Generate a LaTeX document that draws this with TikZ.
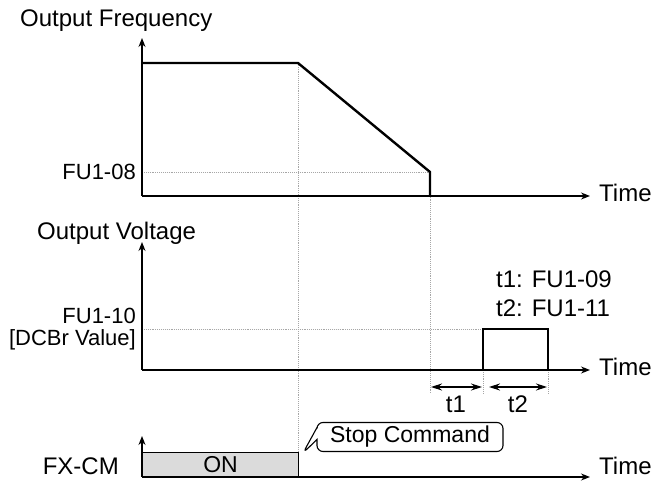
\documentclass[tikz,border=0pt]{standalone}
\usepackage{fontspec}
\setmainfont{Liberation Sans}
\usetikzlibrary{arrows.meta,shapes.callouts}
\begin{document}
\begin{tikzpicture}[x=1pt,y=-1pt,
  axis/.style={line width=1.3pt,-{Stealth[length=9pt,width=7pt]}},
  curve/.style={line width=2.4pt,line join=miter},
  guide/.style={gray!70,densely dotted,line width=0.9pt},
  dim/.style={line width=1.2pt,{Stealth[length=11pt,width=7pt]}-{Stealth[length=11pt,width=7pt]}},
  lbl/.style={font=\fontsize{24}{28}\selectfont,inner sep=0pt},
  slbl/.style={font=\fontsize{22}{26}\selectfont,inner sep=0pt}]
\useasboundingbox (0,0) rectangle (657,481);
% ---- coordinates
\coordinate (o1) at (142,196);
\coordinate (y1) at (142,38);
\coordinate (x1) at (590,196);
\coordinate (f0) at (142,63);
\coordinate (f1) at (298,63);
\coordinate (f2) at (430,172);
\coordinate (f3) at (430,196);
\coordinate (g1) at (142,172);
\coordinate (o2) at (142,370);
\coordinate (y2) at (142,242);
\coordinate (x2) at (590,370);
\coordinate (p0) at (483,370);
\coordinate (p1) at (483,329);
\coordinate (p2) at (548,329);
\coordinate (p3) at (548,370);
\coordinate (g2) at (142,329);
\coordinate (o3) at (142,477);
\coordinate (y3) at (142,436);
\coordinate (x3) at (590,477);
\coordinate (vb) at (298,476);
\coordinate (v2) at (430,394);
\coordinate (v3) at (483,394);
\coordinate (v4) at (548,394);
\coordinate (a1) at (431,387);
\coordinate (a2) at (482,387);
\coordinate (a3) at (489,387);
\coordinate (a4) at (547,387);
% ---- guides
\draw[guide] (g1) -- (f2);
\draw[guide] (f1) -- (vb);
\draw[guide] (f2) -- (v2);
\draw[guide] (g2) -- (p1);
\draw[guide] (p0) -- (v3);
\draw[guide] (p3) -- (v4);
% ---- ON box
\node[draw,line width=1.2pt,fill=gray!28,minimum width=156pt,minimum height=24pt,anchor=south west,inner sep=0pt,font=\fontsize{23}{26}\selectfont] (on) at (o3) {ON};
% ---- axes
\draw[axis] (o1) -- (y1);
\draw[axis] (o1) -- (x1);
\draw[axis] (o2) -- (y2);
\draw[axis] (o2) -- (x2);
\draw[axis] (o3) -- (y3);
\draw[axis] (o3) -- (x3);
% ---- curves
\draw[curve] (f0) -- (f1) -- (f2) -- (f3);
\draw[curve] (p0) -- (p1) -- (p2) -- (p3);
% ---- dimension arrows
\draw[dim] (a1) -- (a2);
\draw[dim] (a3) -- (a4);
% ---- labels
\node[lbl,anchor=west] (tf) at (20,21) {Output Frequency};
\node[slbl,anchor=east] (l08) at (136,172) {FU1-08};
\node[lbl,anchor=west] (tm1) at (599,193) {Time};
\node[lbl,anchor=west] (tv) at (37,233) {Output Voltage};
\node[slbl,anchor=east] (l10) at (136,316) {FU1-10};
\node[slbl,anchor=east] (ldc) at (136,340) {[DCBr Value]};
\node[lbl,anchor=west] (lt1) at (496,279) {t1: FU1-09};
\node[lbl,anchor=west] (lt2) at (496,308) {t2: FU1-11};
\node[lbl] (t1) at (456,404) {t1};
\node[lbl] (t2) at (518,404) {t2};
\node[lbl,anchor=west] (tm2) at (599,367) {Time};
\node[lbl,anchor=east] (fx) at (119,466) {FX-CM};
\node[lbl,anchor=west] (tm3) at (599,466) {Time};
% ---- callout
\node[rectangle callout,draw,line width=1.1pt,rounded corners=6pt,
  minimum width=186pt,minimum height=29pt,inner sep=2pt,
  callout absolute pointer={(303,453)},callout pointer width=12pt,
  font=\fontsize{23}{26}\selectfont] (stop) at (410,437) {Stop Command};
\end{tikzpicture}
\end{document}
